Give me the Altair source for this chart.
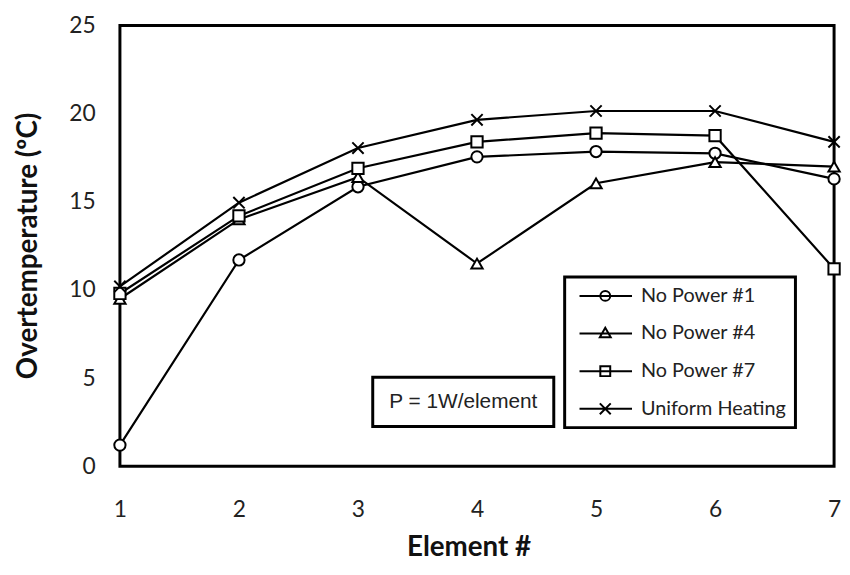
import altair as alt
import pandas as pd

elements = [1, 2, 3, 4, 5, 6, 7]
series_names = ["No Power #1", "No Power #4", "No Power #7", "Uniform Heating"]
no_power_1 = [1.2, 11.7, 15.85, 17.55, 17.85, 17.75, 16.3]
no_power_4 = [9.5, 14.0, 16.4, 11.5, 16.05, 17.25, 17.0]
no_power_7 = [9.8, 14.2, 16.9, 18.4, 18.9, 18.75, 11.2]
uniform = [10.2, 14.95, 18.05, 19.65, 20.15, 20.15, 18.4]

x_ticks = [1, 2, 3, 4, 5, 6, 7]
y_ticks = [0, 5, 10, 15, 20, 25]
note_text = "P = 1W/element"

rows = []
for name, vals in zip(series_names, [no_power_1, no_power_4, no_power_7, uniform]):
    for e, v in zip(elements, vals):
        rows.append({"element": e, "value": v, "series": name})
df = pd.DataFrame(rows)

FONT = "Lato"

x_enc = alt.X("element:Q", scale=alt.Scale(domain=[1, 7], nice=False),
              axis=alt.Axis(values=x_ticks, format="d", title="Element #", grid=False, ticks=False,
                            tickSize=0, domain=False, labelFlush=False, labelPadding=33,
                            labelFontSize=23, labelFont=FONT, labelColor="#222", titleFont=FONT,
                            titleFontSize=28, titleFontWeight="bold", titleColor="#111",
                            titleX=352, titleY=82, titleBaseline="middle", titleAlign="center"))
y_enc = alt.Y("value:Q", scale=alt.Scale(domain=[0, 25], nice=False),
              axis=alt.Axis(values=y_ticks, title="Overtemperature (ºC)", grid=False, ticks=False,
                            tickSize=0, domain=False, labelPadding=25, labelFontSize=23,
                            labelFont=FONT, labelColor="#222", titleFont=FONT, titleFontSize=28,
                            titleFontWeight="bold", titleColor="#111", titleX=-92, titleY=222,
                            titleAngle=270, titleBaseline="middle", titleAlign="center"))

base = alt.Chart(df)

lines = base.mark_line(color="black", strokeWidth=2.2).encode(
    x=x_enc, y=y_enc, detail="series:N", order="element:Q")

plot_shapes = ["circle", "triangle-up", "square", "M-1,-1L1,1M-1,1L1,-1"]
points = base.mark_point(filled=False, fill="white", fillOpacity=1, color="black",
                         strokeWidth=2, size=130, opacity=1).encode(
    x="element:Q", y="value:Q",
    shape=alt.Shape("series:N", scale=alt.Scale(domain=series_names, range=plot_shapes), legend=None))

legend_shapes = [
    "M-0.8,0H9.8M5.4,0A1,1,0,1,1,3.4,0A1,1,0,1,1,5.4,0",
    "M-0.8,0H9.8M4.4,-1.15L5.5,0.75L3.3,0.75Z",
    "M-0.8,0H9.8M3.4,-1H5.4V1H3.4Z",
    "M-0.8,0H9.8M3.3,-1.1L5.5,1.1M3.3,1.1L5.5,-1.1",
]
legend_layer = base.mark_point(filled=False, color="black", opacity=0, strokeWidth=2).encode(
    x="element:Q", y="value:Q",
    shape=alt.Shape("series:N", scale=alt.Scale(domain=series_names, range=legend_shapes),
                    legend=alt.Legend(title=None, orient="none", legendX=449, legendY=254,
                                      padding=9, rowPadding=18, labelOffset=48,
                                      symbolSize=100, symbolOpacity=1, symbolStrokeWidth=2,
                                      symbolStrokeColor="black", symbolFillColor="transparent",
                                      labelFont=FONT, labelFontSize=20, labelColor="#222",
                                      strokeColor="black", fillColor="white")))

note_box = alt.Chart(pd.DataFrame({"a": [0]})).mark_rect(
    fill="white", stroke="black", strokeWidth=3).encode(
    x=alt.datum(3.124), x2=alt.datum(4.645), y=alt.datum(2.25), y2=alt.datum(5.05))
note = alt.Chart(pd.DataFrame({"t": [note_text]})).mark_text(
    font="Liberation Sans", fontSize=21, color="#222").encode(
    x=alt.datum(3.885), y=alt.datum(3.65), text="t:N")

chart = alt.layer(lines, points, legend_layer, note_box, note).resolve_scale(
    shape="independent").properties(
    width=721, height=445,
    autosize=alt.AutoSizeParams(type="none"),
    padding={"left": 113, "top": 15, "right": 8, "bottom": 95},
).configure_view(stroke="black", strokeWidth=3).configure_legend(strokeWidth=3)

chart.save("out.html", embed_options={"renderer": "svg", "actions": False})
